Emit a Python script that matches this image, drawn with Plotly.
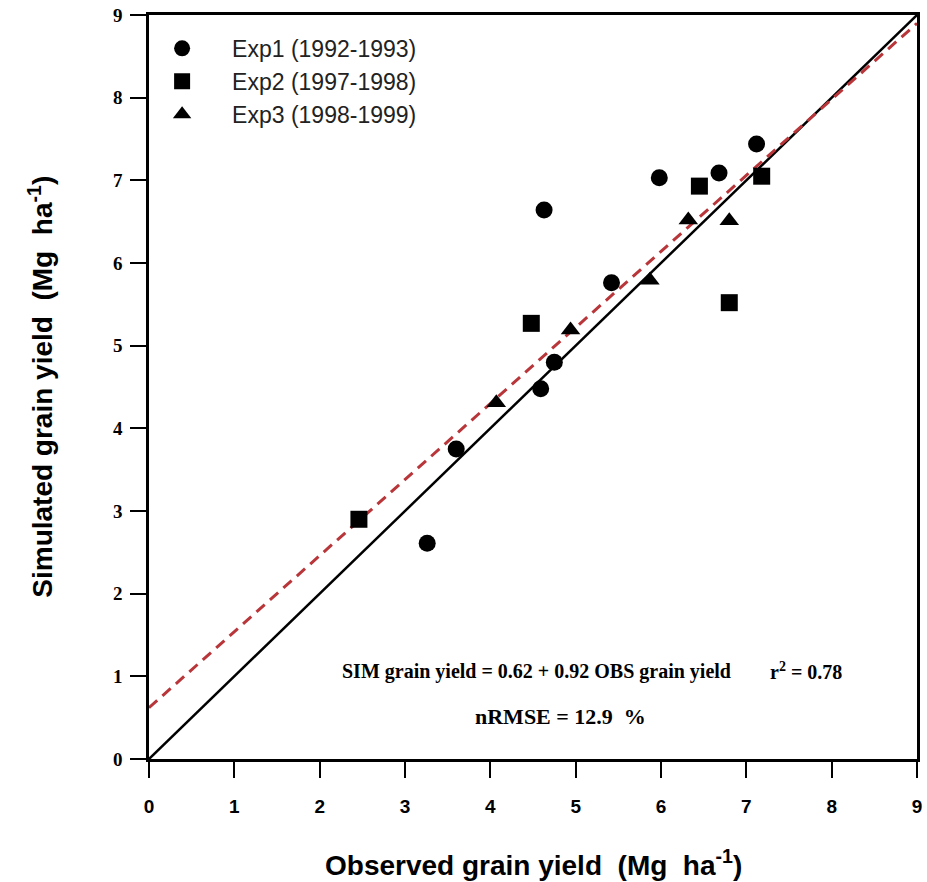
import plotly.graph_objects as go

# Data
exp1_obs = [3.26, 3.60, 4.59, 4.75, 5.42, 4.63, 5.98, 6.68, 7.12]
exp1_sim = [2.61, 3.75, 4.48, 4.80, 5.76, 6.64, 7.03, 7.09, 7.44]
exp2_obs = [2.46, 4.48, 6.45, 7.18, 6.80]
exp2_sim = [2.90, 5.27, 6.93, 7.05, 5.52]
exp3_obs = [4.07, 4.94, 5.87, 6.32, 6.80]
exp3_sim = [4.31, 5.19, 5.79, 6.52, 6.51]

one_to_one_x = [0, 9]
one_to_one_y = [0, 9]
reg_intercept = 0.62
reg_slope = 0.92
reg_x = [0, 9]
reg_y = [reg_intercept + reg_slope * v for v in reg_x]

ticks = list(range(0, 10))

fig = go.Figure()

fig.add_trace(go.Scatter(x=one_to_one_x, y=one_to_one_y, mode="lines",
                         line=dict(color="black", width=2.5), showlegend=False,
                         hoverinfo="skip"))
fig.add_trace(go.Scatter(x=reg_x, y=reg_y, mode="lines",
                         line=dict(color="#b8363a", width=3, dash="11px,7px"),
                         showlegend=False, hoverinfo="skip"))

fig.add_trace(go.Scatter(x=exp1_obs, y=exp1_sim, mode="markers",
                         name="Exp1 (1992-1993)",
                         marker=dict(symbol="circle", size=17, color="black")))
fig.add_trace(go.Scatter(x=exp2_obs, y=exp2_sim, mode="markers",
                         name="Exp2 (1997-1998)",
                         marker=dict(symbol="square", size=17, color="black")))
fig.add_trace(go.Scatter(x=exp3_obs, y=exp3_sim, mode="markers",
                         name="Exp3 (1998-1999)",
                         marker=dict(symbol="triangle-up", size=17, color="black")))

SANS = "Liberation Sans, Arial"
SERIF = "Liberation Serif, Times New Roman"

fig.update_layout(
    width=927, height=882,
    margin=dict(l=149, r=5, t=15, b=123),
    paper_bgcolor="white", plot_bgcolor="white",
    legend=dict(x=-0.022, y=0.984, xanchor="left", yanchor="top",
                bgcolor="rgba(0,0,0,0)", itemwidth=90,
                font=dict(family=SANS, size=23, color="#222")),
    showlegend=True,
)

fig.update_xaxes(range=[0, 9], tickvals=ticks, ticktext=[str(t) for t in ticks],
                 showline=True, linecolor="black", linewidth=2.5, mirror=True,
                 ticks="outside", ticklen=16, tickwidth=2, tickcolor="black",
                 ticklabelstandoff=12,
                 showgrid=False, zeroline=False,
                 tickfont=dict(family=SANS, size=19, color="black", weight="bold"))
fig.update_yaxes(range=[0, 9], tickvals=ticks, ticktext=[str(t) for t in ticks],
                 showline=True, linecolor="black", linewidth=2.5, mirror=True,
                 ticks="outside", ticklen=16, tickwidth=2, tickcolor="black",
                 ticklabelstandoff=4,
                 showgrid=False, zeroline=False,
                 tickfont=dict(family=SERIF, size=19, color="black", weight="bold"))

fig.add_annotation(text="<b>Observed grain yield  (Mg  ha<sup>-1</sup>)</b>",
                   xref="paper", yref="paper", x=0.5, y=-0.140,
                   xanchor="center", yanchor="middle", showarrow=False,
                   font=dict(family=SANS, size=28, color="black"))
fig.add_annotation(text="<b>Simulated grain yield  (Mg  ha<sup>-1</sup>)</b>",
                   xref="paper", yref="paper", x=-0.141, y=0.5, textangle=-90,
                   xanchor="center", yanchor="middle", showarrow=False,
                   font=dict(family=SANS, size=28, color="black"))

fig.add_annotation(text="<b>SIM grain yield = 0.62 + 0.92 OBS grain yield</b>",
                   xref="paper", yref="paper", x=(539 - 149) / 773, y=(759 - 671) / 744,
                   xanchor="center", yanchor="middle", showarrow=False,
                   font=dict(family=SERIF, size=20, color="black"))
fig.add_annotation(text="<b>r<sup>2</sup> = 0.78</b>",
                   xref="paper", yref="paper", x=(810 - 149) / 773, y=(759 - 671) / 744,
                   xanchor="center", yanchor="middle", showarrow=False,
                   font=dict(family=SERIF, size=20, color="black"))
fig.add_annotation(text="<b>nRMSE = 12.9  %</b>",
                   xref="paper", yref="paper", x=(563 - 149) / 773, y=(759 - 716) / 744,
                   xanchor="center", yanchor="middle", showarrow=False,
                   font=dict(family=SERIF, size=22, color="black"))

fig.write_html("out.html")
